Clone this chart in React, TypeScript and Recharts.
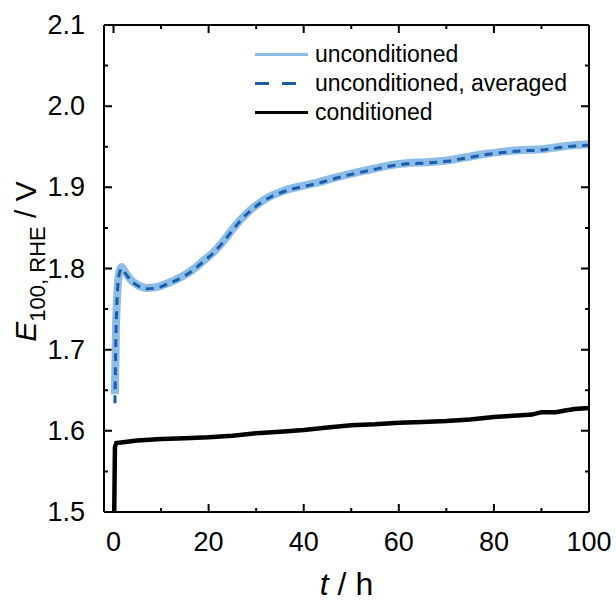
import { LineChart, Line, XAxis, YAxis, ReferenceLine, CartesianGrid, Legend } from "recharts";

// unconditioned, raw
const rawT = [0.3, 0.5, 0.8, 1.2, 1.7, 2.5, 3.5, 5, 7, 9, 11, 13, 15, 17, 19, 21, 23, 25, 27, 29, 31, 33, 35, 37, 40, 43, 46, 50, 54, 58, 62, 66, 70, 74, 78, 82, 86, 90, 94, 97, 100];
const rawV = [1.645, 1.72, 1.77, 1.795, 1.802, 1.795, 1.787, 1.78, 1.776, 1.777, 1.781, 1.786, 1.792, 1.8, 1.81, 1.82, 1.833, 1.848, 1.862, 1.873, 1.882, 1.889, 1.894, 1.898, 1.902, 1.906, 1.911, 1.917, 1.922, 1.927, 1.93, 1.931, 1.933, 1.937, 1.941, 1.944, 1.946, 1.947, 1.95, 1.952, 1.953];

// unconditioned, averaged
const avgT = [0.3, 0.5, 0.8, 1.2, 1.7, 2.5, 3.5, 5, 7, 9, 11, 13, 15, 17, 19, 21, 23, 25, 27, 29, 31, 33, 35, 37, 40, 43, 46, 50, 54, 58, 62, 66, 70, 74, 78, 82, 86, 90, 94, 97, 100];
const avgV = [1.634, 1.715, 1.768, 1.793, 1.8, 1.794, 1.786, 1.779, 1.775, 1.776, 1.78, 1.785, 1.791, 1.799, 1.809, 1.819, 1.832, 1.847, 1.861, 1.872, 1.881, 1.888, 1.893, 1.897, 1.901, 1.905, 1.91, 1.916, 1.921, 1.926, 1.929, 1.93, 1.932, 1.936, 1.94, 1.943, 1.945, 1.946, 1.949, 1.951, 1.952];

// conditioned
const condT = [0.15, 0.3, 0.6, 2, 5, 10, 15, 20, 25, 30, 35, 40, 45, 50, 55, 60, 65, 70, 75, 80, 85, 88, 90, 93, 95, 97, 100];
const condV = [1.5, 1.58, 1.585, 1.586, 1.588, 1.59, 1.591, 1.592, 1.594, 1.597, 1.599, 1.601, 1.604, 1.607, 1.608, 1.61, 1.611, 1.612, 1.614, 1.617, 1.619, 1.62, 1.623, 1.623, 1.625, 1.627, 1.628];

const xMajor = [0, 20, 40, 60, 80, 100];
const xMinor = [10, 30, 50, 70, 90];
const yMajor = [1.5, 1.6, 1.7, 1.8, 1.9, 2.0, 2.1];
const yMinor = [1.55, 1.65, 1.75, 1.85, 1.95, 2.05];
const xDomain: [number, number] = [-2, 100];
const yDomain: [number, number] = [1.5, 2.1];

const legendItems = [
  { name: "unconditioned", color: "#8cbde9", dashed: false },
  { name: "unconditioned, averaged", color: "#1c5ca8", dashed: true },
  { name: "conditioned", color: "#000", dashed: false },
];

const zip = (t: number[], v: number[]) => t.map((x, i) => ({ t: x, v: v[i] }));
const raw = zip(rawT, rawV);
const avg = zip(avgT, avgV);
const cond = zip(condT, condV);

const FONT = "'Liberation Sans', Arial, sans-serif";

const XLabel = (p: any) => (
  <text x={p.x} y={p.y + 31} textAnchor="middle" fontSize={27} fontFamily={FONT} fill="#000">
    {p.payload.value}
  </text>
);

const YLabel = (p: any) => (
  <text x={p.x - 11} y={p.y + 9} textAnchor="end" fontSize={27} fontFamily={FONT} fill="#000">
    {Number(p.payload.value).toFixed(1)}
  </text>
);

const XTitle = (p: any) => {
  const vb = p.viewBox;
  return (
    <text x={vb.x + vb.width / 2} y={vb.y + 83} textAnchor="middle" fontSize={32} fontFamily={FONT} fill="#000">
      <tspan fontStyle="italic">t</tspan> / h
    </text>
  );
};

const YTitle = (p: any) => {
  const vb = p.viewBox;
  const cx = vb.x - 8;
  const cy = vb.y + vb.height / 2 - 7;
  return (
    <text transform={`translate(${cx},${cy}) rotate(-90)`} textAnchor="middle" fontSize={30} fontFamily={FONT} fill="#000">
      <tspan fontStyle="italic">E</tspan>
      <tspan fontSize={22} dy={9}>100, RHE</tspan>
      <tspan dy={-9}> / V</tspan>
    </text>
  );
};

const LegendBox = () => (
  <div style={{ fontFamily: FONT, fontSize: 23, color: "#000", lineHeight: "29px" }}>
    {legendItems.map((it) => (
      <div key={it.name} style={{ display: "flex", alignItems: "center", whiteSpace: "nowrap" }}>
        <div
          style={{
            width: 53,
            height: 3,
            marginRight: 7,
            background: it.dashed
              ? `repeating-linear-gradient(to right, ${it.color} 0 14px, transparent 14px 27px)`
              : it.color,
          }}
        />
        <span>{it.name}</span>
      </div>
    ))}
  </div>
);

// inward tick stubs at both ends of a reference line
const stub = (len: number) => (p: any) => {
  const { x1, y1, x2, y2 } = p;
  const dx = Math.sign(x2 - x1) * len;
  const dy = Math.sign(y2 - y1) * len;
  return (
    <path d={`M${x1},${y1}l${dx},${dy}M${x2},${y2}l${-dx},${-dy}`} stroke="#000" strokeWidth={2} fill="none" />
  );
};

export default function App() {
  return (
    <div style={{ position: "absolute", left: 0, top: 0, width: 616, height: 601 }}>
      <LineChart width={616} height={601} margin={{ top: 25, right: 27, bottom: 29, left: 44 }}>
        <CartesianGrid stroke="#fff" strokeOpacity={0} />
        <XAxis dataKey="t" type="number" domain={xDomain} ticks={xMajor} interval={0}
          height={60} tickLine={false} axisLine={false} tick={XLabel} label={{ content: XTitle }} />
        <YAxis type="number" domain={yDomain} ticks={yMajor} interval={0}
          width={60} tickLine={false} axisLine={false} tick={YLabel} label={{ content: YTitle }} />
        <Legend layout="vertical" align="center" verticalAlign="middle"
          wrapperStyle={{ left: 255, top: 40, width: 330 }} content={LegendBox} />

        {xMajor.map((v) => <ReferenceLine key={"xM" + v} x={v} shape={stub(8)} />)}
        {xMinor.map((v) => <ReferenceLine key={"xm" + v} x={v} shape={stub(4)} />)}
        {yMajor.map((v) => <ReferenceLine key={"yM" + v} y={v} shape={stub(8)} />)}
        {yMinor.map((v) => <ReferenceLine key={"ym" + v} y={v} shape={stub(4)} />)}

        <Line data={raw} dataKey="v" name="unconditioned" type="monotone" stroke="#8cbde9" strokeWidth={8}
          dot={false} isAnimationActive={false} />
        <Line data={avg} dataKey="v" name="unconditioned, averaged" type="monotone" stroke="#1c5ca8" strokeWidth={3}
          strokeDasharray="8 6" dot={false} isAnimationActive={false} />
        <Line data={cond} dataKey="v" name="conditioned" type="linear" stroke="#000" strokeWidth={4.5}
          dot={false} isAnimationActive={false} />

        {/* plot frame */}
        <ReferenceLine x={xDomain[0]} stroke="#000" strokeWidth={2} />
        <ReferenceLine x={xDomain[1]} stroke="#000" strokeWidth={2} />
        <ReferenceLine y={yDomain[0]} stroke="#000" strokeWidth={2} />
        <ReferenceLine y={yDomain[1]} stroke="#000" strokeWidth={2} />
      </LineChart>
    </div>
  );
}
